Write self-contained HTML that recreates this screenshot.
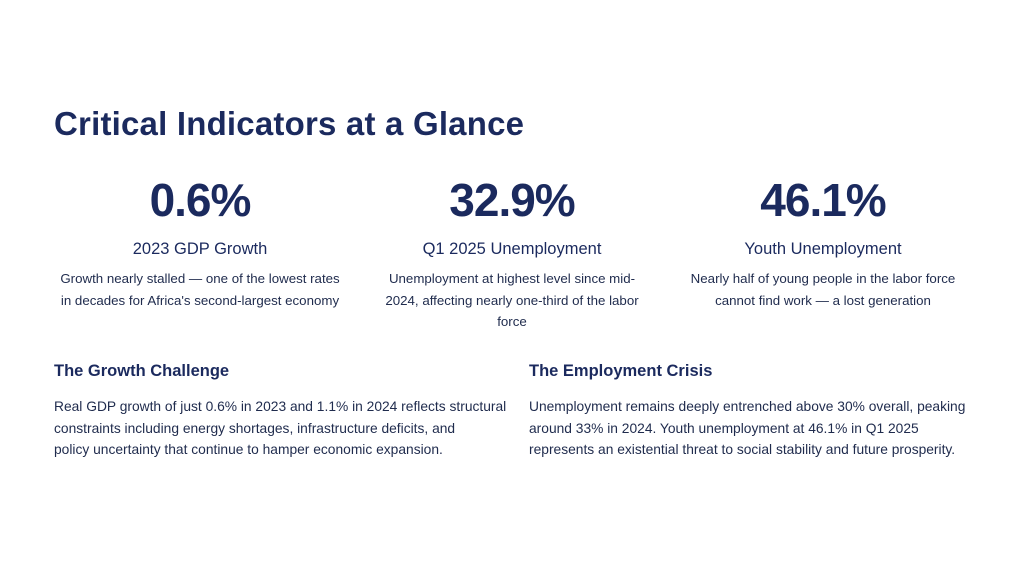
<!DOCTYPE html>
<html><head><style>
body{margin:0;width:1024px;height:576px;background:#fff;font-family:"Liberation Sans",sans-serif;color:#1f2b4d;position:relative;overflow:hidden}
div{position:absolute;white-space:nowrap}
.t{left:54px;top:105px;font-size:33px;font-weight:bold;color:#1b2a5e;letter-spacing:0.2px}
.n{font-size:46px;font-weight:bold;color:#1b2a5e;width:320px;text-align:center;top:173px;letter-spacing:-1px}
.s{font-size:16.5px;color:#1b2a5e;width:320px;text-align:center;top:240px}
.d{font-size:13.3px;line-height:21.5px;width:320px;text-align:center;top:268px}
.h{font-size:16.5px;font-weight:bold;color:#1b2a5e;top:362px}
.p{font-size:13.8px;line-height:21.5px;top:396px}
</style></head><body>
<div class="t">Critical Indicators at a Glance</div>
<div class="n" style="left:40px">0.6%</div>
<div class="n" style="left:352px">32.9%</div>
<div class="n" style="left:663px">46.1%</div>
<div class="s" style="left:40px">2023 GDP Growth</div>
<div class="s" style="left:352px">Q1 2025 Unemployment</div>
<div class="s" style="left:663px">Youth Unemployment</div>
<div class="d" style="left:40px">Growth nearly stalled — one of the lowest rates<br>in decades for Africa's second-largest economy</div>
<div class="d" style="left:352px">Unemployment at highest level since mid-<br>2024, affecting nearly one-third of the labor<br>force</div>
<div class="d" style="left:663px">Nearly half of young people in the labor force<br>cannot find work — a lost generation</div>
<div class="h" style="left:54px">The Growth Challenge</div>
<div class="h" style="left:529px">The Employment Crisis</div>
<div class="p" style="left:54px">Real GDP growth of just 0.6% in 2023 and 1.1% in 2024 reflects structural<br>constraints including energy shortages, infrastructure deficits, and<br>policy uncertainty that continue to hamper economic expansion.</div>
<div class="p" style="left:529px">Unemployment remains deeply entrenched above 30% overall, peaking<br>around 33% in 2024. Youth unemployment at 46.1% in Q1 2025<br>represents an existential threat to social stability and future prosperity.</div>
</body></html>
